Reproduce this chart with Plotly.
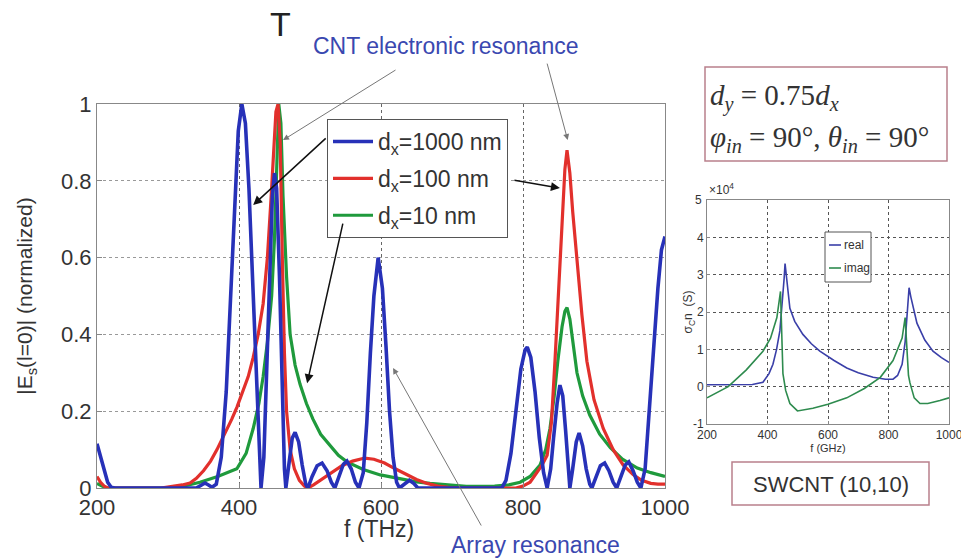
import plotly.graph_objects as go

# ---------------- main plot data (f in THz, normalized |Es|) ----------------
blue_x = [200, 205, 210, 215, 220, 225, 340, 347, 352, 357, 362, 368, 375, 382, 388, 394, 399, 404, 409, 414,
          419, 424, 428, 431, 435, 439, 443, 447, 450, 453, 457, 461, 464, 466, 470, 475, 479, 484, 489, 494,
          497, 503, 510, 517, 524, 530, 535, 541, 547, 552, 558, 564, 569, 575, 580, 585, 590, 596, 602, 607,
          612, 617, 622, 626, 633, 640, 646, 652, 770, 776, 783, 790, 797, 803, 806, 811, 817, 823, 829, 834,
          839, 843, 848, 852, 856, 860, 863, 866, 870, 875, 879, 884, 889, 894, 897, 903, 909, 915, 921, 927,
          932, 938, 944, 949, 955, 961, 966, 972, 978, 984, 990, 995, 1000]
blue_y = [0.115, 0.08, 0.045, 0.015, 0.002, 0.0, 0.0, 0.008, 0.013, 0.008, 0.002, 0.01, 0.08, 0.25, 0.5, 0.76, 0.93, 1.0, 0.95, 0.78,
          0.55, 0.3, 0.1, 0.0, 0.08, 0.3, 0.55, 0.76, 0.82, 0.78, 0.55, 0.25, 0.05, 0.0, 0.06, 0.13, 0.145, 0.12, 0.06, 0.01,
          0.0, 0.03, 0.058, 0.065, 0.045, 0.015, 0.0, 0.03, 0.062, 0.07, 0.05, 0.015, 0.0, 0.04, 0.17, 0.35, 0.5, 0.60, 0.52, 0.37,
          0.2, 0.08, 0.015, 0.0, 0.01, 0.02, 0.012, 0.0, 0.0, 0.02, 0.09, 0.2, 0.31, 0.36, 0.367, 0.34, 0.25, 0.13, 0.04, 0.0,
          0.05, 0.13, 0.22, 0.268, 0.24, 0.15, 0.06, 0.0, 0.05, 0.12, 0.143, 0.11, 0.05, 0.01, 0.0, 0.03, 0.058, 0.065, 0.045, 0.015,
          0.0, 0.03, 0.06, 0.068, 0.045, 0.015, 0.0, 0.05, 0.2, 0.38, 0.52, 0.62, 0.655]

red_x = [200, 205, 210, 215, 290, 300, 310, 320, 331, 340, 350, 360, 369, 380, 390, 397, 405, 413, 420, 427,
         434, 440, 445, 449, 452, 455, 458, 461, 464, 467, 472, 478, 485, 492, 497, 505, 515, 530, 545, 560,
         577, 590, 605, 620, 635, 650, 665, 680, 695, 710, 790, 800, 810, 820, 827, 834, 840, 845, 850, 855,
         859, 862, 866, 870, 876, 883, 890, 900, 913, 927, 941, 955, 967, 980, 990, 1000]
red_y = [0.03, 0.015, 0.005, 0.0, 0.0, 0.002, 0.005, 0.008, 0.013, 0.025, 0.045, 0.07, 0.10, 0.14, 0.18, 0.21, 0.25, 0.29, 0.34, 0.40,
         0.48, 0.6, 0.75, 0.9, 0.98, 1.0, 0.9, 0.6, 0.35, 0.2, 0.1, 0.05, 0.02, 0.005, 0.0, 0.008, 0.02, 0.04, 0.058, 0.07,
         0.078, 0.075, 0.065, 0.05, 0.035, 0.022, 0.012, 0.005, 0.002, 0.0, 0.0, 0.005, 0.015, 0.04, 0.06, 0.085, 0.17, 0.33, 0.5, 0.68,
         0.83, 0.88, 0.82, 0.72, 0.59, 0.45, 0.33, 0.23, 0.155, 0.1, 0.06, 0.035, 0.02, 0.012, 0.01, 0.01]

green_x = [200, 207, 215, 300, 320, 345, 370, 397, 410, 420, 428, 434, 440, 446, 450, 453, 456, 459, 462, 467,
           472, 479, 486, 495, 504, 515, 528, 540, 552, 575, 599, 625, 650, 669, 690, 720, 760, 780, 796, 810,
           824, 832, 838, 844, 849, 855, 859, 862, 866, 870, 876, 884, 894, 908, 923, 940, 961, 980, 1000]
green_y = [0.012, 0.005, 0.0, 0.0, 0.004, 0.015, 0.03, 0.05, 0.09, 0.155, 0.22, 0.29, 0.38, 0.50, 0.65, 0.85, 1.0, 0.95, 0.76, 0.55,
           0.40, 0.32, 0.27, 0.22, 0.18, 0.14, 0.11, 0.085, 0.068, 0.048, 0.034, 0.024, 0.016, 0.012, 0.008, 0.004, 0.005, 0.008, 0.015, 0.03,
           0.06, 0.1, 0.155, 0.24, 0.33, 0.42, 0.46, 0.47, 0.44, 0.38, 0.30, 0.24, 0.19, 0.14, 0.105, 0.075, 0.052, 0.04, 0.03]

series_names = ["d<sub>x</sub>=1000 nm", "d<sub>x</sub>=100 nm", "d<sub>x</sub>=10 nm"]

# ---------------- inset data (sigma_c n, x1e4 S) ----------------
real_x = [200, 300, 350, 385, 405, 418, 430, 441, 450, 455, 458, 462, 468, 474, 490, 517, 545, 573, 620, 662,
          700, 749, 790, 815, 830, 845, 855, 862, 868, 874, 884, 894, 920, 947, 975, 1000]
real_y = [0.05, 0.05, 0.06, 0.12, 0.35, 0.6, 1.0, 1.5, 2.3, 2.9, 3.3, 3.0, 2.5, 2.1, 1.75, 1.4, 1.15, 0.95, 0.7, 0.5,
          0.37, 0.25, 0.2, 0.2, 0.3, 0.6, 1.2, 2.0, 2.65, 2.4, 2.0, 1.7, 1.25, 0.95, 0.78, 0.65]
imag_x = [200, 270, 330, 385, 410, 431, 443, 447, 451, 460, 474, 499, 550, 600, 662, 720, 773, 815, 845, 855,
          860, 866, 871, 885, 904, 930, 970, 1000]
imag_y = [-0.3, 0.0, 0.45, 0.95, 1.3, 1.85, 2.55, 1.6, 0.35, -0.1, -0.45, -0.65, -0.58, -0.47, -0.3, -0.05, 0.25, 0.7, 1.3, 1.85,
          1.2, 0.3, 0.1, -0.3, -0.45, -0.45, -0.37, -0.3]

main_ticks_x = [200, 400, 600, 800, 1000]
main_ticks_y = [0, 0.2, 0.4, 0.6, 0.8, 1]
main_ticktext_y = ["0", "0.2", "0.4", "0.6", "0.8", "1"]
inset_ticks_x = [200, 400, 600, 800, 1000]
inset_ticks_y = [-1, 0, 1, 2, 3, 4, 5]
inset_ticktext_y = ["-1", "0", "1", "2", "3", "4", "5"]

W, H = 961, 558
def px(x):
    return x / W
def py(y):
    return 1 - y / H

BLUE = "#2731b8"
RED = "#e2302c"
GREEN = "#1f9a3c"

fig = go.Figure()
fig.add_trace(go.Scatter(x=green_x, y=green_y, mode="lines", line=dict(color=GREEN, width=3.2),
                         name=series_names[2], legendrank=3, legendgroup="g3"))
fig.add_trace(go.Scatter(x=red_x, y=red_y, mode="lines", line=dict(color=RED, width=3.2),
                         name=series_names[1], legendrank=2, legendgroup="g2"))
fig.add_trace(go.Scatter(x=blue_x, y=blue_y, mode="lines", line=dict(color=BLUE, width=3.6),
                         name=series_names[0], legendrank=1, legendgroup="g1"))

fig.add_trace(go.Scatter(x=real_x, y=real_y, mode="lines", line=dict(color="#3a3fa8", width=1.6),
                         name="real", xaxis="x2", yaxis="y2", showlegend=False))
fig.add_trace(go.Scatter(x=imag_x, y=imag_y, mode="lines", line=dict(color="#2e8b4e", width=1.6),
                         name="imag", xaxis="x2", yaxis="y2", showlegend=False))

SANS = "Liberation Sans, Arial, sans-serif"
tickfont_main = dict(family=SANS, size=22, color="#333")
small_tick = dict(family=SANS, size=12, color="#333")
fig.update_layout(
    width=W, height=H, autosize=False,
    margin=dict(l=0, r=0, t=0, b=0, autoexpand=False),
    paper_bgcolor="white", plot_bgcolor="white",
    showlegend=True,
    legend=dict(x=px(327), y=py(119), xanchor="left", yanchor="top",
                bordercolor="#555", borderwidth=1, bgcolor="white",
                font=dict(family=SANS, size=23, color="#333"),
                tracegroupgap=4, itemwidth=40, traceorder="grouped"),
    xaxis=dict(domain=[px(97), px(665)], range=[200, 1000], tickvals=main_ticks_x, automargin=False,
               showgrid=True, gridcolor="#666", griddash="dot", gridwidth=1,
               showline=True, linecolor="#888", linewidth=1, mirror=True,
               ticks="inside", ticklen=5, tickcolor="#888", zeroline=False,
               tickfont=tickfont_main, ticklabeloverflow="allow", anchor="y"),
    yaxis=dict(domain=[py(488), py(104)], range=[0, 1], tickvals=main_ticks_y, automargin=False,
               ticktext=main_ticktext_y, ticklabeloverflow="allow",
               showgrid=True, gridcolor="#999", griddash="dot", gridwidth=1,
               showline=True, linecolor="#888", linewidth=1, mirror=True,
               ticks="inside", ticklen=5, tickcolor="#888", zeroline=False,
               tickfont=tickfont_main,
               title=dict(text="|E<sub>s</sub>(l=0)| (normalized)",
                          font=dict(family=SANS, size=21, color="#333"),
                          standoff=22), anchor="x"),
    xaxis2=dict(domain=[px(707), px(949)], range=[200, 1000], tickvals=inset_ticks_x, automargin=False,
                showgrid=True, gridcolor="#555", griddash="dot", gridwidth=1,
                showline=True, linecolor="#888", linewidth=1, mirror=True,
                ticks="inside", ticklen=3, tickcolor="#888", zeroline=False,
                tickfont=small_tick, ticklabeloverflow="allow",
                title=dict(text="f (GHz)", font=dict(family=SANS, size=11, color="#333"),
                           standoff=0), anchor="y2"),
    yaxis2=dict(domain=[py(424), py(200)], range=[-1, 5], tickvals=inset_ticks_y, automargin=False,
                ticktext=["", "0", "1", "2", "3", "4", ""],
                showgrid=True, gridcolor="#555", griddash="dot", gridwidth=1,
                showline=True, linecolor="#888", linewidth=1, mirror=True,
                ticks="inside", ticklen=3, tickcolor="#888", zeroline=False,
                tickfont=small_tick, ticklabeloverflow="allow",
                title=dict(text="σ<sub>C</sub>n  (S)", font=dict(family=SANS, size=12, color="#333"),
                           standoff=1), anchor="x2"),
)

# x-axis title of the main plot
fig.add_annotation(text="f (THz)", xref="paper", yref="paper", x=px(379), y=py(529), xanchor="center",
                   yanchor="middle", showarrow=False, font=dict(family=SANS, size=23, color="#333"))

# inset end tick labels (plotly hides them at the range ends of this small subplot)
small = dict(family=SANS, size=12, color="#333")
fig.add_annotation(text=inset_ticktext_y[-1], xref="paper", yref="y2", x=px(704), y=inset_ticks_y[-1],
                   xanchor="right", yanchor="middle", showarrow=False, font=small)
fig.add_annotation(text=inset_ticktext_y[0], xref="paper", yref="y2", x=px(706), y=inset_ticks_y[0],
                   xanchor="right", yanchor="middle", showarrow=False, font=small)

# inset legend
fig.add_shape(type="rect", xref="paper", yref="paper", x0=px(825), x1=px(871), y0=py(282), y1=py(232),
              line=dict(color="#555", width=1), fillcolor="white", layer="above")
fig.add_shape(type="line", xref="paper", yref="paper", x0=px(829), x1=px(841), y0=py(245), y1=py(245),
              line=dict(color="#3a3fa8", width=1.6), layer="above")
fig.add_shape(type="line", xref="paper", yref="paper", x0=px(829), x1=px(841), y0=py(268), y1=py(268),
              line=dict(color="#2e8b4e", width=1.6), layer="above")
fig.add_annotation(text="real", xref="paper", yref="paper", x=px(842), y=py(245), xanchor="left", yanchor="middle",
                   showarrow=False, font=small)
fig.add_annotation(text="imag", xref="paper", yref="paper", x=px(842), y=py(268), xanchor="left", yanchor="middle",
                   showarrow=False, font=small)
fig.add_annotation(text="×10<sup>4</sup>", xref="paper", yref="paper", x=px(707), y=py(199), xanchor="left",
                   yanchor="bottom", showarrow=False, font=small)

# parameter box
fig.add_shape(type="rect", xref="paper", yref="paper", x0=px(705), x1=px(947), y0=py(161), y1=py(67),
              line=dict(color="#b9808c", width=1.5))
serif = dict(family="Liberation Serif, Times New Roman, serif", size=29, color="#333")
fig.add_annotation(text="<i>d</i><sub><i>y</i></sub> = 0.75<i>d</i><sub><i>x</i></sub>", xref="paper", yref="paper",
                   x=px(708), y=py(97), xanchor="left", yanchor="middle", showarrow=False, font=serif)
fig.add_annotation(text="<i>φ</i><sub><i>in</i></sub> = 90°, <i>θ</i><sub><i>in</i></sub> = 90°", xref="paper", yref="paper",
                   x=px(708), y=py(139), xanchor="left", yanchor="middle", showarrow=False, font=serif)

# SWCNT box
fig.add_shape(type="rect", xref="paper", yref="paper", x0=px(732), x1=px(929), y0=py(505), y1=py(462),
              line=dict(color="#b9808c", width=1.5))
fig.add_annotation(text="SWCNT (10,10)", xref="paper", yref="paper", x=px(831), y=py(484),
                   xanchor="center", yanchor="middle", showarrow=False,
                   font=dict(family=SANS, size=22, color="#333"))

# labels
lab = dict(family=SANS, size=23, color="#3a48b0")
fig.add_annotation(text="T", xref="paper", yref="paper", x=px(280), y=py(24), xanchor="center", yanchor="middle",
                   showarrow=False, font=dict(family=SANS, size=34, color="#222"))
fig.add_annotation(text="CNT electronic resonance", xref="paper", yref="paper", x=px(445), y=py(46),
                   xanchor="center", yanchor="middle", showarrow=False, font=lab)
fig.add_annotation(text="Array resonance", xref="paper", yref="paper", x=px(535), y=py(545),
                   xanchor="center", yanchor="middle", showarrow=False, font=lab)

# arrows (tip in data coordinates, tail offset in pixels)
arrows = [
    (462, 0.906, 114, -71, "#777", 1.0),
    (863, 0.906, -21, -78, "#777", 1.0),
    (420, 0.737, 74, -68, "#111", 1.5),
    (852, 0.781, -47, -8, "#111", 1.5),
    (496, 0.273, 36, -161, "#111", 1.5),
    (617, 0.3125, 89, 159, "#777", 1.0),
]
for x, y, ax, ay, c, w in arrows:
    fig.add_annotation(x=x, y=y, xref="x", yref="y", ax=ax, ay=ay, text="", showarrow=True,
                       arrowhead=2, arrowsize=1.2, arrowwidth=w, arrowcolor=c, standoff=0, startstandoff=0)

fig.write_html("out.html")
